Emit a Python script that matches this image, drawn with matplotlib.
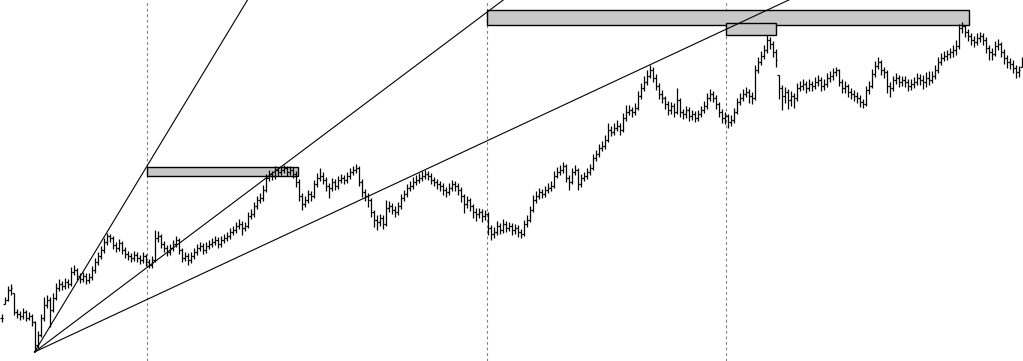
import numpy as np
import matplotlib
matplotlib.use('Agg')
import matplotlib.pyplot as plt
from matplotlib.patches import Rectangle

# daily bars (price units, bottom of chart = 0)
closes = [43, 61, 71, 73, 49, 47, 45, 49, 43, 45,
          39, 16, 26, 43, 56, 61, 51, 63, 73, 77,
          75, 79, 77, 89, 91, 85, 82, 85, 81, 84,
          91, 99, 105, 111, 119, 125, 123, 116, 113, 118,
          111, 107, 105, 103, 106, 103, 101, 105, 99, 96,
          101, 123, 125, 117, 113, 109, 113, 117, 121, 111,
          103, 105, 101, 105, 109, 113, 115, 111, 115, 117,
          119, 121, 117, 121, 123, 125, 129, 131, 135, 137,
          133, 135, 145, 147, 155, 161, 163, 171, 183, 187,
          185, 191, 189, 191, 193, 189, 191, 187, 179, 165,
          157, 161, 167, 165, 177, 183, 185, 181, 175, 173,
          179, 175, 181, 183, 181, 185, 189, 191, 193, 179,
          169, 165, 161, 149, 141, 139, 143, 137, 153, 155,
          151, 149, 155, 163, 167, 173, 175, 179, 181, 183,
          185, 187, 185, 181, 179, 177, 175, 171, 169, 173,
          177, 175, 171, 165, 157, 161, 155, 149, 147, 149,
          145, 147, 133, 127, 129, 135, 131, 137, 133, 135,
          131, 133, 129, 127, 137, 141, 151, 161, 165, 169,
          167, 171, 173, 175, 185, 189, 191, 195, 183, 179,
          189, 191, 177, 183, 185, 189, 193, 203, 207, 213,
          215, 221, 231, 229, 233, 235, 231, 243, 249, 251,
          249, 253, 265, 273, 279, 285, 291, 283, 275, 267,
          263, 257, 251, 255, 249, 261, 249, 247, 251, 245,
          247, 243, 247, 251, 255, 263, 267, 263, 257, 249,
          243, 245, 239, 241, 249, 259, 263, 267, 269, 265,
          263, 291, 299, 305, 311, 321, 317, 309, 301, 273,
          265, 269, 261, 265, 263, 273, 275, 277, 273, 277,
          275, 279, 281, 275, 277, 283, 285, 289, 291, 279,
          273, 275, 269, 267, 265, 263, 259, 257, 271, 275,
          287, 295, 299, 291, 289, 275, 273, 281, 283, 279,
          281, 279, 275, 277, 279, 283, 281, 279, 283, 281,
          285, 291, 299, 303, 305, 307, 309, 311, 315, 333,
          335, 329, 325, 321, 319, 323, 325, 321, 313, 309,
          307, 315, 317, 309, 303, 299, 297, 293, 289, 291, 299]

highs = [47, 64, 75, 77, 68, 52, 50, 53, 51, 49,
         47, 40, 30, 47, 64, 66, 64, 68, 78, 82,
         80, 83, 82, 94, 96, 93, 88, 89, 88, 88,
         95, 103, 109, 115, 123, 128, 127, 125, 119, 122,
         120, 114, 110, 108, 110, 109, 106, 109, 107, 102,
         105, 131, 130, 127, 120, 116, 117, 121, 125, 123,
         113, 109, 108, 109, 113, 117, 119, 118, 119, 121,
         123, 125, 124, 125, 127, 129, 133, 135, 139, 142,
         140, 139, 149, 152, 159, 165, 168, 176, 187, 191,
         190, 195, 194, 195, 196, 195, 195, 194, 190, 182,
         168, 165, 171, 170, 181, 188, 193, 189, 184, 178,
         183, 182, 185, 187, 186, 189, 193, 195, 197, 195,
         182, 172, 168, 163, 151, 146, 147, 146, 161, 160,
         158, 155, 159, 167, 171, 177, 180, 184, 186, 188,
         190, 191, 190, 188, 184, 182, 180, 178, 174, 178,
         181, 180, 178, 174, 167, 165, 163, 157, 153, 153,
         152, 151, 149, 136, 134, 140, 138, 142, 140, 139,
         138, 137, 136, 132, 141, 146, 155, 166, 170, 173,
         172, 175, 178, 180, 190, 194, 196, 199, 197, 186,
         193, 196, 193, 187, 189, 193, 197, 207, 211, 217,
         220, 226, 238, 235, 238, 241, 238, 248, 256, 256,
         254, 258, 270, 278, 285, 291, 296, 294, 287, 278,
         271, 265, 260, 259, 258, 273, 263, 252, 255, 254,
         251, 250, 251, 255, 260, 268, 272, 270, 266, 259,
         252, 249, 247, 246, 253, 263, 268, 272, 274, 272,
         269, 296, 304, 310, 316, 326, 324, 320, 312, 286,
         276, 274, 272, 270, 268, 278, 280, 282, 280, 282,
         280, 284, 286, 284, 282, 288, 290, 293, 294, 292,
         282, 280, 277, 273, 271, 269, 266, 262, 275, 280,
         292, 300, 304, 301, 294, 291, 279, 285, 288, 286,
         285, 285, 282, 282, 284, 288, 287, 286, 289, 290,
         290, 296, 304, 308, 310, 311, 313, 316, 321, 337,
         339, 336, 332, 328, 325, 328, 329, 328, 324, 316,
         313, 320, 322, 319, 312, 306, 303, 301, 296, 295, 304]

lows = [39, 57, 60, 66, 46, 43, 41, 42, 40, 41,
        35, 9, 13, 24, 40, 53, 34, 49, 61, 70,
        71, 72, 73, 75, 86, 81, 78, 79, 77, 78,
        81, 88, 96, 102, 108, 116, 119, 112, 109, 110,
        107, 103, 101, 99, 100, 99, 97, 98, 95, 93,
        93, 99, 119, 113, 109, 105, 106, 110, 114, 107,
        99, 100, 96, 98, 102, 106, 110, 107, 108, 112,
        114, 116, 113, 114, 118, 120, 122, 126, 128, 132,
        126, 130, 133, 142, 144, 152, 158, 160, 169, 180,
        181, 182, 185, 186, 188, 185, 186, 183, 174, 160,
        151, 154, 158, 160, 163, 174, 180, 177, 170, 163,
        170, 171, 172, 178, 177, 178, 182, 186, 188, 175,
        164, 160, 154, 144, 134, 131, 135, 132, 135, 149,
        147, 144, 146, 152, 160, 164, 170, 172, 176, 178,
        180, 182, 181, 177, 175, 172, 170, 166, 164, 166,
        170, 170, 166, 159, 148, 153, 150, 143, 140, 143,
        139, 141, 126, 121, 123, 126, 127, 128, 129, 130,
        126, 127, 124, 123, 125, 134, 139, 149, 158, 162,
        163, 164, 168, 170, 173, 183, 186, 188, 179, 171,
        177, 186, 171, 174, 180, 182, 186, 191, 200, 204,
        210, 212, 219, 225, 226, 230, 226, 229, 240, 246,
        244, 246, 251, 262, 270, 276, 283, 279, 271, 262,
        258, 252, 246, 247, 244, 247, 244, 242, 243, 240,
        241, 239, 240, 244, 248, 252, 260, 259, 252, 244,
        238, 237, 233, 235, 238, 247, 256, 260, 264, 258,
        257, 261, 288, 296, 302, 308, 312, 304, 294, 262,
        251, 258, 252, 255, 253, 260, 270, 271, 268, 270,
        270, 272, 275, 270, 271, 274, 279, 281, 285, 275,
        268, 268, 264, 262, 260, 258, 254, 253, 255, 267,
        273, 284, 292, 286, 283, 268, 264, 270, 277, 274,
        275, 274, 270, 271, 273, 276, 276, 272, 274, 276,
        278, 282, 288, 296, 300, 301, 303, 304, 306, 312,
        328, 324, 320, 316, 314, 316, 319, 316, 308, 301,
        301, 305, 311, 304, 297, 293, 292, 288, 283, 284, 294]

# fan from the swing low through three later highs
fan_anchor = 11
fan_targets = [35, 94, 216]

# shaded zones: start bar, end bar, bottom, top
zone_start = [48.5, 161.8, 241.5]
zone_end = [98.8, 322.5, 258.2]
zone_bottom = [185, 336, 326]
zone_top = [194, 351, 338]

closes = np.array(closes, dtype=float)
highs = np.array(highs, dtype=float)
lows = np.array(lows, dtype=float)
x = np.arange(len(closes))
opens = np.clip(np.r_[closes[0], closes[:-1]], lows, highs)

fig = plt.figure(figsize=(10.23, 3.61), dpi=100)
ax = fig.add_axes([0, 0, 1, 1])
ax.set_xlim(-0.5, len(closes) - 0.5)
ax.set_ylim(0, 361)
ax.axis('off')

for xs in zone_start:
    ax.axvline(xs, color='#808080', lw=0.8, ls=(0, (2.5, 2.5)), zorder=1)

# ohlc bars
ax.vlines(x, lows, highs, color='black', lw=0.9, zorder=3)
ax.hlines(opens, x - 0.4, x, color='black', lw=0.9, zorder=3)
ax.hlines(closes, x, x + 0.4, color='black', lw=0.9, zorder=3)

x0, y0 = fan_anchor, lows[fan_anchor]
x_end = len(closes)
for t in fan_targets:
    slope = (highs[t] - y0) / (t - x0)
    ax.plot([x0, x_end], [y0, y0 + slope * (x_end - x0)], color='black', lw=0.8, zorder=4)

for s, e, b, t in zip(zone_start, zone_end, zone_bottom, zone_top):
    ax.add_patch(Rectangle((s, b), e - s, t - b, facecolor='#c8c8c8',
                           edgecolor='black', lw=1.0, zorder=2))

fig.savefig('out.png', dpi=100)
